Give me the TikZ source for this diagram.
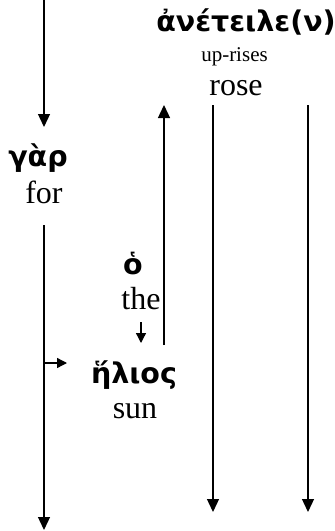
\documentclass[tikz,border=0pt]{standalone}
\usepackage{fontspec}
\setmainfont{Liberation Serif}
\newfontfamily\greekbf{DejaVu Sans}
\usetikzlibrary{arrows.meta}

\tikzset{
  gk/.style={font=\greekbf\bfseries\fontsize{28.5}{32}\selectfont, inner sep=0pt, anchor=base},
  en/.style={font=\fontsize{32}{38}\selectfont, inner sep=0pt, anchor=base},
  ensmall/.style={font=\fontsize{21}{25}\selectfont, inner sep=0pt, anchor=base},
  flow/.style={line width=1.3pt, -{Triangle[length=13pt,width=12pt]}},
  nudge/.style={line width=1.3pt, -{Triangle[length=10pt,width=10pt]}}
}

\begin{document}
\begin{tikzpicture}[x=1pt,y=-1pt]
  \useasboundingbox (0,0) rectangle (335,531);

  \node[gk] (aneteile) at (246,31) {ἀνέτειλε(ν)};
  \node[ensmall] (uprises) at (234.5,61) {up-rises};
  \node[en] (rose) at (236,95) {rose};

  \node[gk] (gar) at (38,166) {γὰρ};
  \node[en] (for) at (44,203) {for};

  \node[gk] (ho) at (133,274) {ὁ};
  \node[en] (the) at (141,309) {the};

  \node[gk] (helios) at (134,383) {ἥλιος};
  \node[en] (sun) at (135,418) {sun};
  %%%%%%%%%%%%%%%%%%%%%%%%%%%%%%%%%%%

  \coordinate (intop) at (44,0);
  \coordinate (inend) at (44,127);
  \coordinate (gartop) at (44,225);
  \coordinate (garend) at (44,530);
  \coordinate (sidetip) at (67,363);
  \coordinate (thetop) at (141,322);
  \coordinate (theend) at (141,343);
  \coordinate (upfoot) at (164,345);
  \coordinate (uptip) at (164,105);
  \coordinate (rosea) at (213,105);
  \coordinate (roseaend) at (213,512);
  \coordinate (roseb) at (308,105);
  \coordinate (rosebend) at (308,512);

  \draw[flow] (intop) -- (inend);
  \draw[flow] (gartop) -- (garend);
  \draw[nudge] (gartop |- sidetip) -- (sidetip);
  \draw[nudge] (thetop) -- (theend);
  \draw[flow] (upfoot) -- (uptip);
  \draw[flow] (rosea) -- (roseaend);
  \draw[flow] (roseb) -- (rosebend);
  %%%%%%%%%%%%%%%%%%%%%%%%%%%%%%%%%%%
\end{tikzpicture}
\end{document}
